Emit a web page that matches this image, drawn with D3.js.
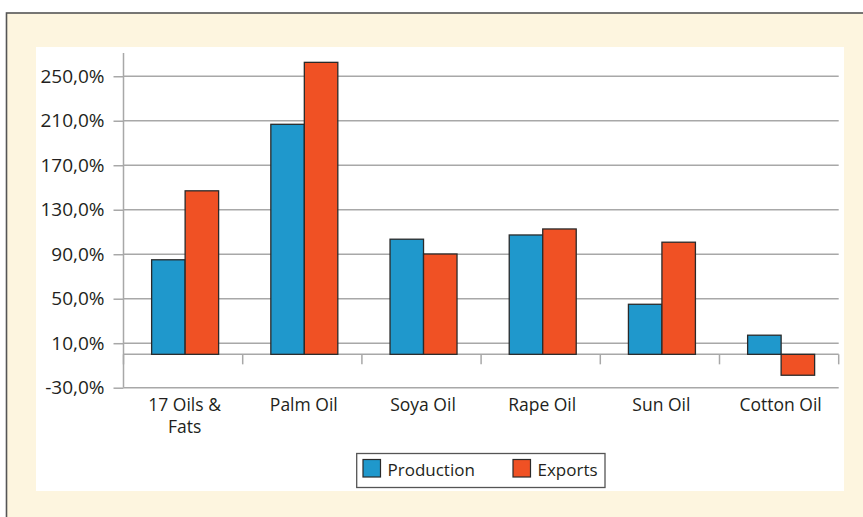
<!DOCTYPE html>
<html>
<head>
<meta charset="utf-8">
<script src="https://cdn.jsdelivr.net/npm/d3@7"></script>
<style>
  html, body { margin: 0; padding: 0; background: #ffffff; }
  svg { display: block; }
  text { font-family: "Open Sans", sans-serif; fill: #231f20; }
</style>
</head>
<body>
<svg id="chart" width="863" height="517"></svg>
<script>
const categories = ["17 Oils & Fats", "Palm Oil", "Soya Oil", "Rape Oil", "Sun Oil", "Cotton Oil"];
const categoryLines = [["17 Oils &", "Fats"], ["Palm Oil"], ["Soya Oil"], ["Rape Oil"], ["Sun Oil"], ["Cotton Oil"]];
const seriesNames = ["Production", "Exports"];
const production = [85.0, 206.8, 103.5, 107.3, 45.0, 17.2];
const exportsVals = [147.0, 262.5, 90.2, 112.7, 100.8, -18.8];
const yTicks = [-30, 10, 50, 90, 130, 170, 210, 250];
const yDomain = [-30, 270];

const colors = { Production: "#1f98cc", Exports: "#f05124" };

const svg = d3.select("#chart");

// outer cream panel with dark frame
svg.append("rect").attr("x", 6.5).attr("y", 13).attr("width", 870).attr("height", 520)
  .attr("fill", "#fdf5df").attr("stroke", "#555").attr("stroke-width", 1.6);
// white chart area
svg.append("rect").attr("x", 36).attr("y", 47).attr("width", 808).attr("height", 444).attr("fill", "#ffffff");

const left = 123.5, right = 838.7;
const y = d3.scaleLinear().domain(yDomain).range([387.7, 54]);
const x = d3.scaleBand().domain(categories).range([left, right]).padding(0);
const bw = x.bandwidth();
const xs = d3.scaleBand().domain(seriesNames).range([bw * 0.236, bw * 0.798]).padding(0);

// gridlines
svg.append("g").selectAll("line").data(yTicks).join("line")
  .attr("x1", left).attr("x2", right)
  .attr("y1", d => y(d)).attr("y2", d => y(d))
  .attr("stroke", "#a8a8a8").attr("stroke-width", 1.5);

// y axis
const yAxis = d3.axisLeft(y).tickValues(yTicks).tickSize(10).tickPadding(9)
  .tickFormat(d => d.toFixed(1).replace(".", ",") + "%");
const gy = svg.append("g").attr("transform", `translate(${left},0)`).call(yAxis);
gy.select(".domain").remove();
gy.append("line").attr("x1", 0).attr("x2", 0).attr("y1", 53).attr("y2", y(-30))
  .attr("stroke", "#a8a8a8").attr("stroke-width", 1.5);
gy.selectAll(".tick line").attr("stroke", "#a8a8a8").attr("stroke-width", 1.5);
gy.selectAll(".tick text").attr("font-size", 19).attr("fill", "#231f20")
  .style("font-family", '"Open Sans", sans-serif');

// zero axis with category ticks
const gx = svg.append("g");
gx.append("line").attr("x1", left).attr("x2", right).attr("y1", y(0)).attr("y2", y(0))
  .attr("stroke", "#a8a8a8").attr("stroke-width", 1.5);
const boundaries = categories.map(c => x(c)).concat([right]);
gx.selectAll("line.tk").data(boundaries).join("line").attr("class", "tk")
  .attr("x1", d => d).attr("x2", d => d).attr("y1", y(0)).attr("y2", y(0) + 10)
  .attr("stroke", "#a8a8a8").attr("stroke-width", 1.5);

// bars
const data = categories.map((c, i) => ({ c, vals: [
  { s: "Production", v: production[i] }, { s: "Exports", v: exportsVals[i] }] }));
const groups = svg.append("g").selectAll("g").data(data).join("g")
  .attr("transform", d => `translate(${x(d.c)},0)`);
groups.selectAll("rect").data(d => d.vals).join("rect")
  .attr("x", d => xs(d.s)).attr("width", xs.bandwidth())
  .attr("y", d => y(Math.max(0, d.v))).attr("height", d => Math.abs(y(d.v) - y(0)))
  .attr("fill", d => colors[d.s]).attr("stroke", "#2a2a2a").attr("stroke-width", 1.3);

// category labels
const lbl = svg.append("g").selectAll("text").data(categories).join("text")
  .attr("x", d => x(d) + bw * 0.5 + 1.5).attr("y", 411)
  .attr("text-anchor", "middle").attr("font-size", 17.5);
lbl.each(function(d, i) {
  const t = d3.select(this);
  categoryLines[i].forEach((line, j) => {
    t.append("tspan").attr("x", x(d) + bw * 0.5 + 1.5).attr("dy", j === 0 ? 0 : 22).text(line);
  });
});

// legend
const lg = svg.append("g");
lg.append("rect").attr("x", 356.7).attr("y", 453.5).attr("width", 248.3).attr("height", 34)
  .attr("fill", "#fff").attr("stroke", "#555").attr("stroke-width", 1.3);
const legendX = [363, 513];
seriesNames.forEach((s, i) => {
  lg.append("rect").attr("x", legendX[i]).attr("y", 459.5).attr("width", 17.5).attr("height", 17.5)
    .attr("fill", colors[s]).attr("stroke", "#2a2a2a").attr("stroke-width", 1.2);
  lg.append("text").attr("x", legendX[i] + 24.5).attr("y", 476).attr("font-size", 17).text(s);
});
</script>
</body>
</html>
